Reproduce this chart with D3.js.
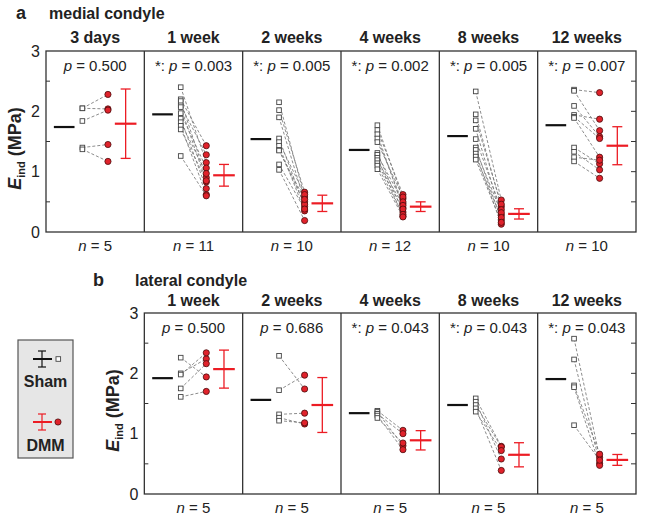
<!DOCTYPE html>
<html>
<head>
<meta charset="utf-8">
<script src="https://cdn.jsdelivr.net/npm/d3@7"></script>
<style>
  html, body { margin: 0; padding: 0; background: #fff; }
  svg { display: block; font-family: "Liberation Sans", Arial, sans-serif; }
</style>
</head>
<body>
<svg id="chart" width="645" height="521"></svg>
<script>
// ---------------- DATA ----------------
const groupsA = ["3 days", "1 week", "2 weeks", "4 weeks", "8 weeks", "12 weeks"];
const pValuesA = ["0.500", "0.003", "0.005", "0.002", "0.005", "0.007"];
const sigA = [false, true, true, true, true, true];
const nA = [5, 11, 10, 12, 10, 10];
const shamA = [
  [2.05, 2.05, 1.84, 1.40, 1.37],
  [2.40, 2.20, 2.17, 2.10, 2.07, 1.97, 1.88, 1.82, 1.76, 1.70, 1.26],
  [2.15, 2.02, 1.90, 1.55, 1.49, 1.43, 1.36, 1.35, 1.12, 1.03],
  [1.77, 1.69, 1.62, 1.55, 1.49, 1.31, 1.28, 1.23, 1.19, 1.14, 1.10, 1.04],
  [2.33, 1.95, 1.85, 1.71, 1.54, 1.40, 1.36, 1.30, 1.25, 1.20],
  [2.36, 2.34, 2.09, 1.94, 1.91, 1.89, 1.40, 1.33, 1.24, 1.17]
];
const dmmA = [
  [2.28, 2.04, 2.02, 1.45, 1.17],
  [1.15, 1.43, 0.90, 1.28, 0.83, 1.06, 0.72, 0.97, 0.62, 0.85, 0.60],
  [0.58, 0.66, 0.50, 0.42, 0.62, 0.35, 0.46, 0.54, 0.38, 0.19],
  [0.55, 0.62, 0.40, 0.47, 0.58, 0.33, 0.50, 0.26, 0.44, 0.38, 0.29, 0.25],
  [0.53, 0.42, 0.46, 0.28, 0.37, 0.20, 0.32, 0.13, 0.24, 0.16],
  [2.31, 1.68, 1.58, 1.87, 1.55, 1.24, 1.13, 1.03, 1.19, 0.89]
];
const shamMeanA = [1.74, 1.95, 1.54, 1.36, 1.59, 1.77];
const dmmMeanA = [1.795, 0.94, 0.475, 0.42, 0.30, 1.43];
const dmmErrA = [0.575, 0.18, 0.135, 0.08, 0.085, 0.315];

const groupsB = ["1 week", "2 weeks", "4 weeks", "8 weeks", "12 weeks"];
const pValuesB = ["0.500", "0.686", "0.043", "0.043", "0.043"];
const sigB = [false, false, true, true, true];
const nB = [5, 5, 5, 5, 5];
const shamB = [
  [2.26, 2.00, 1.98, 1.75, 1.61],
  [2.29, 1.72, 1.32, 1.265, 1.215],
  [1.38, 1.36, 1.33, 1.30, 1.26],
  [1.585, 1.53, 1.475, 1.42, 1.365],
  [2.575, 2.23, 1.80, 1.77, 1.14]
];
const dmmB = [
  [1.94, 2.24, 2.34, 2.16, 1.70],
  [1.74, 1.97, 1.34, 1.16, 1.18],
  [1.055, 0.80, 1.00, 0.735, 0.845],
  [0.79, 0.58, 0.78, 0.39, 0.72],
  [0.61, 0.51, 0.66, 0.475, 0.56]
];
const shamMeanB = [1.92, 1.56, 1.34, 1.475, 1.905];
const dmmMeanB = [2.07, 1.475, 0.89, 0.65, 0.565];
const dmmErrB = [0.315, 0.455, 0.16, 0.20, 0.09];

const yTicks = [0, 1, 2, 3];
const minorTicks = [0.5, 1.5, 2.5];
const rightTicks = [0.5, 1, 1.5, 2, 2.5];

// ---------------- STYLE ----------------
const RED = "#ec1c24";
const DOT = "#e0222b";
const FRAME = "#333";
const TXT = "#222";

const svg = d3.select("#chart");

// columns (shared by both panels)
const colIdx = d3.range(6);
const xCol = d3.scaleBand().domain(colIdx).range([46, 636]).paddingInner(0).paddingOuter(0);
const w = xCol.bandwidth();
// within-column positions (fractions of column width)
const xIn = d3.scaleLinear().domain([0, 1]).range([0, w]);
const POS = { shamL: 0.08, shamR: 0.29, sham: 0.37, dmm: 0.63, dmmL: 0.70, dmmR: 0.92, dmmC: 0.81 };

function drawPanel(opt) {
  const y = d3.scaleLinear().domain([0, 3]).range([opt.bottom, opt.top]);
  const g = svg.append("g");
  const cols = opt.cols;
  const left = xCol(cols[0]);
  const right = xCol(cols[cols.length - 1]) + w;

  // panel letter + heading
  g.append("text").attr("x", opt.letterX).attr("y", opt.headY)
    .attr("font-size", 18).attr("font-weight", "bold").attr("fill", TXT).text(opt.letter);
  g.append("text").attr("x", opt.headX).attr("y", opt.headY)
    .attr("font-size", 16).attr("font-weight", "bold").attr("fill", TXT).text(opt.heading);

  cols.forEach((c, i) => {
    const x0 = xCol(c);
    const cx = x0 + w / 2;
    // subplot title
    g.append("text").attr("x", cx).attr("y", opt.titleY).attr("text-anchor", "middle")
      .attr("font-size", 16).attr("font-weight", "bold").attr("fill", TXT).text(opt.groups[i]);
    // p value
    const pt = g.append("text").attr("x", cx).attr("y", opt.pY).attr("text-anchor", "middle")
      .attr("font-size", 15).attr("fill", TXT);
    if (opt.sig[i]) pt.append("tspan").text("*: ");
    pt.append("tspan").attr("font-style", "italic").text("p");
    pt.append("tspan").text(" = " + opt.pv[i]);
    // n
    const nt = g.append("text").attr("x", cx).attr("y", opt.nY).attr("text-anchor", "middle")
      .attr("font-size", 15).attr("fill", TXT);
    nt.append("tspan").attr("font-style", "italic").text("n");
    nt.append("tspan").text(" = " + opt.n[i]);

    const sham = opt.sham[i], dmm = opt.dmm[i];
    // dashed pair lines
    g.append("g").selectAll("line").data(sham).join("line")
      .attr("x1", x0 + xIn(POS.sham)).attr("x2", x0 + xIn(POS.dmm))
      .attr("y1", d => y(d)).attr("y2", (d, j) => y(dmm[j]))
      .attr("stroke", "#777").attr("stroke-width", 0.85).attr("stroke-dasharray", "3,2");
    // sham mean line
    g.append("line").attr("x1", x0 + xIn(POS.shamL)).attr("x2", x0 + xIn(POS.shamR))
      .attr("y1", y(opt.shamMean[i])).attr("y2", y(opt.shamMean[i]))
      .attr("stroke", "#111").attr("stroke-width", 2.2);
    // squares
    const s = 4.6;
    g.append("g").selectAll("rect").data(sham).join("rect")
      .attr("x", x0 + xIn(POS.sham) - s / 2).attr("y", d => y(d) - s / 2)
      .attr("width", s).attr("height", s)
      .attr("fill", "#fff").attr("stroke", "#444").attr("stroke-width", 0.9);
    // circles
    g.append("g").selectAll("circle").data(dmm).join("circle")
      .attr("cx", x0 + xIn(POS.dmm)).attr("cy", d => y(d)).attr("r", 3.1)
      .attr("fill", DOT).attr("stroke", "#4a0d0d").attr("stroke-width", 0.8);
    // dmm mean + error bar
    const m = opt.dmmMean[i], e = opt.dmmErr[i];
    const ex = x0 + xIn(POS.dmmC);
    g.append("line").attr("x1", ex).attr("x2", ex).attr("y1", y(m + e)).attr("y2", y(m - e))
      .attr("stroke", RED).attr("stroke-width", 1.3);
    [m + e, m - e].forEach(v => {
      g.append("line").attr("x1", ex - 5).attr("x2", ex + 5).attr("y1", y(v)).attr("y2", y(v))
        .attr("stroke", RED).attr("stroke-width", 1.3);
    });
    g.append("line").attr("x1", x0 + xIn(POS.dmmL)).attr("x2", x0 + xIn(POS.dmmR))
      .attr("y1", y(m)).attr("y2", y(m)).attr("stroke", RED).attr("stroke-width", 2.2);

    // divider
    if (i > 0) {
      g.append("line").attr("x1", x0).attr("x2", x0).attr("y1", opt.top).attr("y2", opt.bottom)
        .attr("stroke", FRAME).attr("stroke-width", 1.3);
    }
  });

  // frame
  g.append("rect").attr("x", left).attr("y", y(3)).attr("width", right - left)
    .attr("height", y(0) - y(3)).attr("fill", "none").attr("stroke", FRAME).attr("stroke-width", 1.3);

  // left ticks (minor inward) and labels
  g.append("g").selectAll("line").data(minorTicks).join("line")
    .attr("x1", left).attr("x2", left + 4).attr("y1", d => y(d)).attr("y2", d => y(d))
    .attr("stroke", FRAME).attr("stroke-width", 1);
  g.append("g").selectAll("text").data(yTicks).join("text")
    .attr("x", left - 6).attr("y", d => y(d)).attr("dy", "0.36em").attr("text-anchor", "end")
    .attr("font-size", 16).attr("fill", TXT).text(d => d);
  // right ticks (inward)
  g.append("g").selectAll("line").data(rightTicks).join("line")
    .attr("x1", right - 5).attr("x2", right).attr("y1", d => y(d)).attr("y2", d => y(d))
    .attr("stroke", FRAME).attr("stroke-width", 1);

  // y axis title
  const yt = g.append("text")
    .attr("transform", `translate(${opt.yTitleX},${(opt.top + opt.bottom) / 2 + 7}) rotate(-90)`)
    .attr("text-anchor", "middle").attr("font-size", 18).attr("font-weight", "bold").attr("fill", TXT);
  yt.append("tspan").attr("font-style", "italic").text("E");
  yt.append("tspan").attr("font-size", 11).attr("dy", 4).text("ind");
  yt.append("tspan").attr("dy", -4).text(" (MPa)");
}

drawPanel({
  cols: [0, 1, 2, 3, 4, 5], top: 51, bottom: 232,
  letter: "a", letterX: 16, heading: "medial condyle", headX: 49, headY: 19,
  titleY: 43, pY: 71, nY: 251, yTitleX: 21,
  groups: groupsA, pv: pValuesA, sig: sigA, n: nA,
  sham: shamA, dmm: dmmA, shamMean: shamMeanA, dmmMean: dmmMeanA, dmmErr: dmmErrA
});
drawPanel({
  cols: [1, 2, 3, 4, 5], top: 313, bottom: 494,
  letter: "b", letterX: 93, heading: "lateral condyle", headX: 135, headY: 286,
  titleY: 306, pY: 333, nY: 513, yTitleX: 119,
  groups: groupsB, pv: pValuesB, sig: sigB, n: nB,
  sham: shamB, dmm: dmmB, shamMean: shamMeanB, dmmMean: dmmMeanB, dmmErr: dmmErrB
});

// ---------------- LEGEND ----------------
const lg = svg.append("g");
lg.append("rect").attr("x", 18).attr("y", 340).attr("width", 55).attr("height", 118)
  .attr("fill", "#e6e6e6").attr("stroke", "#555").attr("stroke-width", 1.2);
const legendItems = [
  { label: "Sham", color: "#111", cy: 359, ty: 387, marker: "square" },
  { label: "DMM", color: RED, cy: 422, ty: 451, marker: "circle" }
];
legendItems.forEach(it => {
  lg.append("line").attr("x1", 42).attr("x2", 42).attr("y1", it.cy - 8).attr("y2", it.cy + 8)
    .attr("stroke", it.color).attr("stroke-width", 1.2);
  [it.cy - 8, it.cy + 8].forEach(v => lg.append("line").attr("x1", 38).attr("x2", 46)
    .attr("y1", v).attr("y2", v).attr("stroke", it.color).attr("stroke-width", 1.2));
  lg.append("line").attr("x1", 33).attr("x2", 52).attr("y1", it.cy).attr("y2", it.cy)
    .attr("stroke", it.color).attr("stroke-width", 2);
  if (it.marker === "square") {
    lg.append("rect").attr("x", 56).attr("y", it.cy - 2.3).attr("width", 4.6).attr("height", 4.6)
      .attr("fill", "#fff").attr("stroke", "#444").attr("stroke-width", 0.9);
  } else {
    lg.append("circle").attr("cx", 58).attr("cy", it.cy).attr("r", 3.1)
      .attr("fill", DOT).attr("stroke", "#4a0d0d").attr("stroke-width", 0.8);
  }
  lg.append("text").attr("x", 45.5).attr("y", it.ty).attr("text-anchor", "middle")
    .attr("font-size", 16).attr("font-weight", "bold").attr("fill", TXT).text(it.label);
});
</script>
</body>
</html>
